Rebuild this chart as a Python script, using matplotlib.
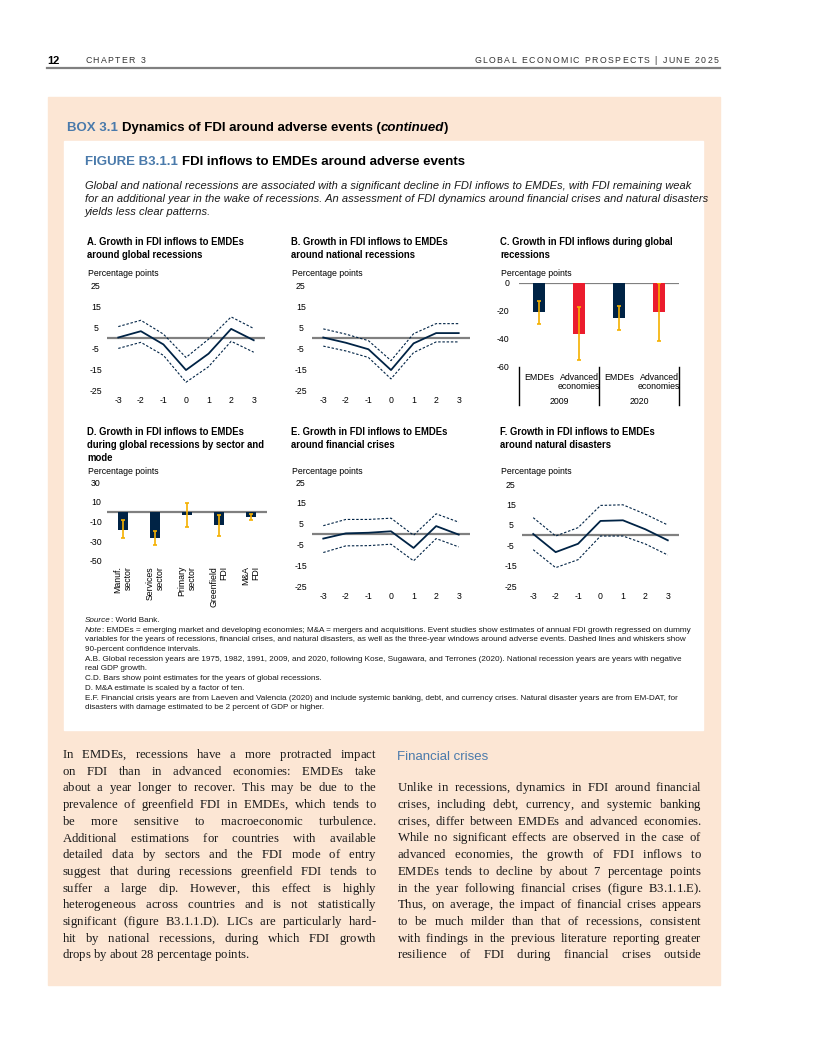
import matplotlib
matplotlib.use("Agg")
import matplotlib.pyplot as plt
from matplotlib.patches import Rectangle
from matplotlib.lines import Line2D

W, H = 816, 1056

# ===== DATA =====
years = [-3, -2, -1, 0, 1, 2, 3]

a_mid = [0, 3, -3.3, -15.5, -7.7, 4.1, -1.3]
a_hi = [5.2, 8.2, 1.6, -9.5, -0.8, 9.8, 4.3]
a_lo = [-5.2, -2.3, -8.5, -21.3, -13.9, -1.8, -7.0]

b_mid = [0, -2.5, -5.6, -15.5, -2.8, 2.1, 2.1]
b_hi = [4.1, 1.6, -1.5, -11.0, 1.8, 6.6, 6.6]
b_lo = [-4.1, -6.4, -9.5, -19.7, -7.2, -2.1, -2.1]

c_labels = ["EMDEs", "Advanced\neconomies", "EMDEs", "Advanced\neconomies"]
c_groups = ["2009", "2020"]
c_vals = [-20.6, -36.1, -25.1, -21.0]
c_hi = [-12.7, -17.0, -16.7, -0.3]
c_lo = [-29.0, -55.0, -33.5, -41.4]

d_labels = ["Manuf.\nsector", "Services\nsector", "Primary\nsector", "Greenfield\nFDI", "M&A\nFDI"]
d_vals = [-18.3, -26.3, -3.0, -14.0, -5.0]
d_hi = [-8.7, -19.3, 8.3, -3.7, -2.0]
d_lo = [-27.0, -34.3, -15.3, -24.7, -8.0]

e_mid = [-2.2, 0.3, 0.6, 1.3, -6.7, 3.8, -0.3]
e_hi = [4.0, 7.0, 7.0, 7.6, -0.6, 9.7, 5.7]
e_lo = [-8.9, -5.7, -5.6, -4.9, -12.9, -2.2, -6.2]

f_mid = [0.5, -8.4, -4.3, 6.9, 7.2, 2.8, -2.6]
f_hi = [8.5, -0.5, 3.6, 14.5, 14.8, 10.2, 4.9]
f_lo = [-7.2, -16.0, -12.1, -0.5, -0.5, -4.4, -9.8]

footnotes = [
    [("Source", "italic"), (": World Bank.", "normal")],
    [("Note", "italic"), (": EMDEs = emerging market and developing economies; M&A = mergers and acquisitions. Event studies show estimates of annual FDI growth regressed on dummy", "normal")],
    [("variables for the years of recessions, financial crises, and natural disasters, as well as the three-year windows around adverse events. Dashed lines and whiskers show", "normal")],
    [("90-percent confidence intervals.", "normal")],
    [("A.B. Global recession years are 1975, 1982, 1991, 2009, and 2020, following Kose, Sugawara, and Terrones (2020). National recession years are years with negative", "normal")],
    [("real GDP growth.", "normal")],
    [("C.D. Bars show point estimates for the years of global recessions.", "normal")],
    [("D. M&A estimate is scaled by a factor of ten.", "normal")],
    [("E.F. Financial crisis years are from Laeven and Valencia (2020) and include systemic banking, debt, and currency crises. Natural disaster years are from EM-DAT, for", "normal")],
    [("disasters with damage estimated to be 2 percent of GDP or higher.", "normal")],
]

left_col = [
    "In EMDEs, recessions have a more protracted impact",
    "on FDI than in advanced economies: EMDEs take",
    "about a year longer to recover. This may be due to the",
    "prevalence of greenfield FDI in EMDEs, which tends to",
    "be more sensitive to macroeconomic turbulence.",
    "Additional estimations for countries with available",
    "detailed data by sectors and the FDI mode of entry",
    "suggest that during recessions greenfield FDI tends to",
    "suffer a large dip. However, this effect is highly",
    "heterogeneous across countries and is not statistically",
    "significant (figure B3.1.1.D). LICs are particularly hard-",
    "hit by national recessions, during which FDI growth",
    "drops by about 28 percentage points.",
]
right_col = [
    "Unlike in recessions, dynamics in FDI around financial",
    "crises, including debt, currency, and systemic banking",
    "crises, differ between EMDEs and advanced economies.",
    "While no significant effects are observed in the case of",
    "advanced economies, the growth of FDI inflows to",
    "EMDEs tends to decline by about 7 percentage points",
    "in the year following financial crises (figure B3.1.1.E).",
    "Thus, on average, the impact of financial crises appears",
    "to be much milder than that of recessions, consistent",
    "with findings in the previous literature reporting greater",
    "resilience of FDI during financial crises outside",
]

NAVY = "#002345"
RED = "#EB1C2D"
GOLD = "#F5B000"
BLUE = "#4A7AAB"
PEACH = "#FCE6D4"
GRAY = "#808080"
SANS = ["Liberation Sans", "DejaVu Sans"]
NARROW = ["Liberation Sans Narrow", "Liberation Sans", "DejaVu Sans"]
SERIF = ["Liberation Serif", "DejaVu Serif"]

plt.rcParams["font.family"] = SANS
plt.rcParams["axes.unicode_minus"] = False

fig = plt.figure(figsize=(W / 100, H / 100), dpi=100)
R = fig.canvas.get_renderer()


def fx(x):
    return x / W


def fy(y):
    return 1 - y / H


def txt(x, y, s, **kw):
    kw.setdefault("va", "center")
    return fig.text(fx(x), fy(y), s, **kw)


def width(s, **kw):
    t = fig.text(0, 0, s, **kw)
    w = t.get_window_extent(R).width
    t.remove()
    return w


def fit(s, target, fs0=8, **kw):
    return fs0 * target / width(s, fontsize=fs0, **kw)


def rich(x, y, parts, **kw):
    # parts: list of (string, dict of text kwargs)
    for s, extra in parts:
        t = txt(x, y, s, va="baseline", **kw, **extra)
        x += t.get_window_extent(R).width


def hs(v):
    return r"$\hspace{%.4f}$" % v


def spread(pieces, target, **kw):
    # join pieces with mathtext kerns so the whole string is `target` px wide
    unit = width("a" + hs(1) + "a", **kw) - width("a" + hs(0) + "a", **kw)
    w0 = width(hs(0).join(pieces), **kw)
    gap = (target - w0) / (len(pieces) - 1)
    return hs(gap / unit).join(pieces)


def spaced(x, y, s, target, fs, ha="left", **kw):
    pieces = [c if c != " " else "\u00a0" for c in s]
    line = spread(pieces, target, fontsize=fs, **kw)
    txt(x if ha == "left" else x - target, y, line, fontsize=fs, va="baseline", **kw)


def justify(lines, x0, x1, y0, dy, fs, last_left=False):
    kw = dict(fontsize=fs, family=SERIF)
    space = width("a a", **kw) - width("aa", **kw)
    for i, line in enumerate(lines):
        words = line.split()
        if last_left and i == len(lines) - 1:
            natural = sum(width(w, **kw) for w in words) + space * (len(words) - 1)
            s = spread(words, natural, **kw)
        else:
            s = spread(words, x1 - x0, **kw)
        txt(x0, y0 + i * dy, s, va="baseline", color="#1a1a1a", **kw)


def add_ax(x0, y0, x1, y1):
    ax = fig.add_axes([fx(x0), fy(y1), (x1 - x0) / W, (y1 - y0) / H])
    ax.set_facecolor("none")
    for sp in ax.spines.values():
        sp.set_visible(False)
    ax.tick_params(length=0, labelsize=6.3)
    return ax


# ===== PAGE =====
fig.add_artist(Rectangle((fx(48), fy(985)), (720 - 48) / W, (985 - 97) / H,
                         transform=fig.transFigure, color=PEACH, zorder=-3))
fig.add_artist(Rectangle((fx(64), fy(730)), (703 - 64) / W, (730 - 141) / H,
                         transform=fig.transFigure, color="white", zorder=-2))
fig.add_artist(Line2D([fx(47), fx(720)], [fy(68), fy(68)], transform=fig.transFigure,
                      color=GRAY, lw=1.6))

txt(47, 63.5, "12", fontsize=8, fontweight="bold", va="baseline")
spaced(85, 63, "CHAPTER 3", 62, 6.3, color="#333333")
spaced(720, 63, "GLOBAL ECONOMIC PROSPECTS | JUNE 2025", 246, 6.3, ha="right", color="#333333")

# box title
bfs = fit("BOX 3.1 Dynamics of FDI around adverse events (continued)", 386, family=NARROW, fontweight="bold")
rich(67, 131, [("BOX 3.1 ", dict(color=BLUE)),
               ("Dynamics of FDI around adverse events (", dict(color="black")),
               ("continued", dict(color="black", style="italic")),
               (")", dict(color="black"))],
     fontsize=bfs, family=NARROW, fontweight="bold")

ffs = fit("FIGURE B3.1.1 FDI inflows to EMDEs around adverse events", 382, family=NARROW, fontweight="bold")
rich(85, 165, [("FIGURE B3.1.1 ", dict(color=BLUE)),
               ("FDI inflows to EMDEs around adverse events", dict(color="black"))],
     fontsize=ffs, family=NARROW, fontweight="bold")

sub = ["Global and national recessions are associated with a significant decline in FDI inflows to EMDEs, with FDI remaining weak",
       "for an additional year in the wake of recessions. An assessment of FDI dynamics around financial crises and natural disasters",
       "yields less clear patterns."]
sfs = fit(sub[0], 608, style="italic")
for i, s in enumerate(sub):
    txt(85, 186 + i * 13, s, fontsize=sfs, style="italic", color="#1a1a1a")

# panel titles
pfs = fit("A. Growth in FDI inflows to EMDEs", 158, family=NARROW, fontweight="bold")
ptitles = [
    (87, 242, "A. Growth in FDI inflows to EMDEs\naround global recessions"),
    (291, 242, "B. Growth in FDI inflows to EMDEs\naround national recessions"),
    (500, 242, "C. Growth in FDI inflows during global\nrecessions"),
    (87, 432, "D. Growth in FDI inflows to EMDEs\nduring global recessions by sector and\nmode"),
    (291, 432, "E. Growth in FDI inflows to EMDEs\naround financial crises"),
    (500, 432, "F. Growth in FDI inflows to EMDEs\naround natural disasters"),
]
for x, y, s in ptitles:
    txt(x, y - 5, s, fontsize=pfs, family=NARROW, fontweight="bold", va="top", linespacing=1.35)

for x, y in [(88, 273), (292, 273), (501, 273), (88, 472), (292, 472), (501, 472)]:
    txt(x, y, "Percentage points", fontsize=6.3)


def line_panel(ax, mid, hi, lo, yt):
    ax.axhline(0, color=GRAY, lw=1.6, zorder=1)
    ax.plot(years, mid, color=NAVY, lw=1.3, zorder=3)
    ax.plot(years, hi, color=NAVY, lw=0.8, ls=(0, (2.2, 1.6)), zorder=3)
    ax.plot(years, lo, color=NAVY, lw=0.8, ls=(0, (2.2, 1.6)), zorder=3)
    ax.set_xlim(-3.5, 3.5)
    ax.set_ylim(-25, 25)
    ax.set_xticks(years)
    ax.set_yticks(yt)
    ax.tick_params(axis="y", pad=8)
    ax.tick_params(axis="x", pad=4)
    for lbl in ax.get_yticklabels():
        lbl.set_ha("center")


ytl = [25, 15, 5, -5, -15, -25]
axA = add_ax(107, 285, 265, 390)
line_panel(axA, a_mid, a_hi, a_lo, ytl)
axB = add_ax(312, 285, 470, 390)
line_panel(axB, b_mid, b_hi, b_lo, ytl)
axE = add_ax(312, 482, 470, 586)
line_panel(axE, e_mid, e_hi, e_lo, ytl)
axF = add_ax(522, 484, 679, 586)
line_panel(axF, f_mid, f_hi, f_lo, ytl)

# panel C
axC = add_ax(519, 283, 679, 367)
xc = list(range(len(c_vals)))
axC.bar(xc, c_vals, width=0.31, color=[NAVY, RED, NAVY, RED], zorder=2)
axC.errorbar(xc, [(h + l) / 2 for h, l in zip(c_hi, c_lo)],
             yerr=[(h - l) / 2 for h, l in zip(c_hi, c_lo)],
             fmt="none", ecolor=GOLD, elinewidth=1.2, capsize=1.2, capthick=1.2, zorder=3)
axC.axhline(0, color=GRAY, lw=1.6, zorder=1)
axC.set_xlim(-0.5, 3.5)
axC.set_ylim(-60, 0)
axC.set_yticks([0, -20, -40, -60])
axC.set_xticks(xc)
axC.set_xticklabels(c_labels, fontsize=6.3, linespacing=1.1)
axC.tick_params(axis="x", pad=4)
axC.tick_params(axis="y", pad=7)
for i, g in enumerate(c_groups):
    txt(559 + 80 * i, 401, g, fontsize=6.3, ha="center")
for x in [519, 599, 679]:
    fig.add_artist(Line2D([fx(x), fx(x)], [fy(367), fy(405)], transform=fig.transFigure,
                          color="black", lw=1))

# panel D
axD = add_ax(107, 482, 267, 561)
xd = list(range(len(d_vals)))
axD.bar(xd, d_vals, width=0.31, color=NAVY, zorder=2)
axD.errorbar(xd, [(h + l) / 2 for h, l in zip(d_hi, d_lo)],
             yerr=[(h - l) / 2 for h, l in zip(d_hi, d_lo)],
             fmt="none", ecolor=GOLD, elinewidth=1.2, capsize=1.2, capthick=1.2, zorder=3)
axD.axhline(0, color=GRAY, lw=1.6, zorder=1)
axD.set_xlim(-0.5, 4.5)
axD.set_ylim(-50, 30)
axD.set_yticks([30, 10, -10, -30, -50])
axD.tick_params(axis="y", pad=8)
for lbl in axD.get_yticklabels():
    lbl.set_ha("center")
axD.set_xticks([])
for i, s in enumerate(d_labels):
    txt(123 + 32 * i, 566, s, fontsize=6.3, rotation=90, ha="center", va="top",
        multialignment="right", linespacing=1.1)

# footnotes
nfs = fit(footnotes[1][0][0] + footnotes[1][1][0], 608)
for i, parts in enumerate(footnotes):
    rich(85, 622 + i * 9.7, [(s, dict(style=st)) for s, st in parts], fontsize=nfs, color="#1a1a1a")

# body text
txt(397, 757, "Financial crises", fontsize=9.5, color=BLUE)
justify(left_col, 62, 377, 758, 16.7, 9.2, last_left=True)
justify(right_col, 397, 702, 758 + 2 * 16.7, 16.7, 9.2)

fig.savefig("out.png", dpi=100)
